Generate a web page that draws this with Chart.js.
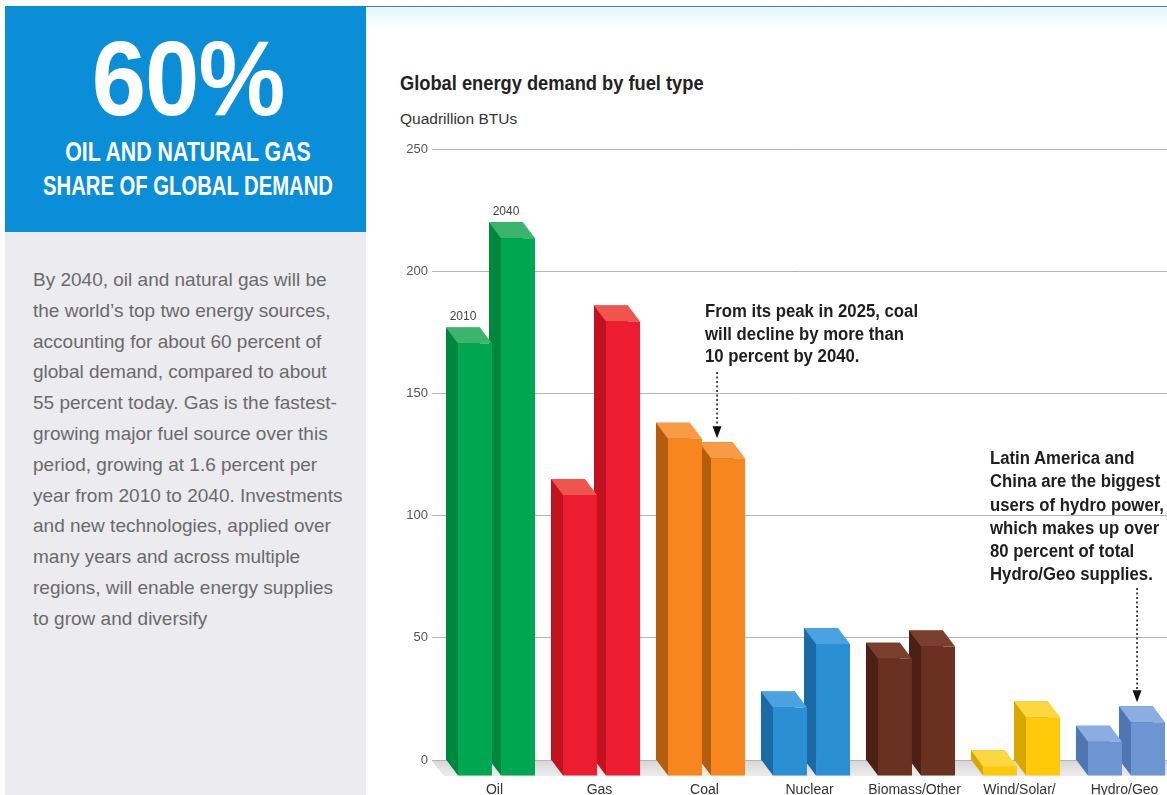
<!DOCTYPE html>
<html>
<head>
<meta charset="utf-8">
<script src="https://cdn.jsdelivr.net/npm/chart.js@4.4.1/dist/chart.umd.min.js"></script>
<style>
  body { margin:0; width:1167px; height:795px; overflow:hidden; background:#fff; position:relative; font-family:"Liberation Sans", Arial, sans-serif; }
  .abs { position:absolute; white-space:nowrap; }
  #blue { left:5px; top:6px; width:361px; height:226px; background:#0b8ed8; }
  #grey { left:5px; top:232px; width:361px; height:563px; background:#ecebef; }
  .head { left:-55px; width:486px; text-align:center; color:#fff; font-weight:bold; }
  #big { top:26px; font-size:105px; line-height:105px; transform:scaleX(0.93); letter-spacing:-1px; }
  #h1 { top:139px; font-size:27px; line-height:27px; transform:scaleX(0.79); }
  #h2 { top:173px; font-size:27px; line-height:27px; transform:scaleX(0.75); }
  #para { left:33px; top:265px; font-size:19px; line-height:30.8px; color:#6a6a6a; }
  #topline { left:366px; top:6px; width:801px; height:1px; background:#4d7ea8; }
  #topglow { left:366px; top:7px; width:801px; height:22px; background:linear-gradient(#e4f6fb, #fff); }
  #title { left:400px; top:72px; font-size:21px; line-height:21px; font-weight:bold; color:#222; transform:scaleX(0.87); transform-origin:left; }
  #unit { left:400px; top:111px; font-size:15.5px; line-height:15.5px; color:#333; }
  .note { font-size:18px; font-weight:bold; color:#1e1e1e; transform:scaleX(0.93); transform-origin:left; }
  #note1 { left:705px; top:300px; line-height:22.5px; }
  #note2 { left:990px; top:447px; line-height:23.3px; }
  #chart { position:absolute; left:370px; top:0; }
</style>
</head>
<body>
<div id="topglow" class="abs"></div>
<div id="topline" class="abs"></div>
<div id="blue" class="abs"></div>
<div id="grey" class="abs"></div>
<div id="big" class="abs head">60%</div>
<div id="h1" class="abs head">OIL AND NATURAL GAS</div>
<div id="h2" class="abs head">SHARE OF GLOBAL DEMAND</div>
<div id="para" class="abs">By 2040, oil and natural gas will be<br>the world’s top two energy sources,<br>accounting for about 60 percent of<br>global demand, compared to about<br>55 percent today. Gas is the fastest-<br>growing major fuel source over this<br>period, growing at 1.6 percent per<br>year from 2010 to 2040. Investments<br>and new technologies, applied over<br>many years and across multiple<br>regions, will enable energy supplies<br>to grow and diversify</div>

<div id="title" class="abs">Global energy demand by fuel type</div>
<div id="unit" class="abs">Quadrillion BTUs</div>

<canvas id="chart" width="840" height="830"></canvas>

<div id="note1" class="abs note">From its peak in 2025, coal<br>will decline by more than<br>10 percent by 2040.</div>
<div id="note2" class="abs note">Latin America and<br>China are the biggest<br>users of hydro power,<br>which makes up over<br>80 percent of total<br>Hydro/Geo supplies.</div>

<script>
// data
var fuels = ["Oil", "Gas", "Coal", "Nuclear", "Biomass/Other", ["Wind/Solar/", "Biofuels"], "Hydro/Geo"];
var years = ["2010", "2040"];
var demand2010 = [177, 115, 138, 28, 48, 4, 14];
var demand2040 = [220, 186, 130, 54, 53, 24, 22];
var yTicks = [0, 50, 100, 150, 200, 250];

// colours per fuel: front, side, top
var frontColors = ["#00a651", "#ee1c30", "#f7861f", "#2a8fd3", "#6a3020", "#fdc908", "#6d95d2"];
var sideColors  = ["#00873f", "#c1121f", "#b35d0e", "#1b6aa5", "#4c2015", "#d9a602", "#5076b2"];
var topColors   = ["#3db46d", "#f0554d", "#f99b46", "#4aa3e0", "#7a3e2c", "#fdd740", "#8aaee2"];

var DX = 12, DY = 16;

function poly(ctx, pts, color) {
  ctx.beginPath();
  ctx.moveTo(pts[0][0], pts[0][1]);
  for (var k = 1; k < pts.length; k++) ctx.lineTo(pts[k][0], pts[k][1]);
  ctx.closePath();
  ctx.fillStyle = color;
  ctx.fill();
}

var bar3d = {
  id: 'bar3d',
  beforeDatasetsDraw: function(chart) {
    var ctx = chart.ctx, area = chart.chartArea;
    var y0 = chart.scales.y.getPixelForValue(0);
    ctx.save();
    var g = ctx.createLinearGradient(0, y0, 0, y0 + DY);
    g.addColorStop(0, "#d6d6d6");
    g.addColorStop(1, "#ececec");
    poly(ctx, [[area.left, y0 + 1], [area.right, y0 + 1], [area.right + DX, y0 + DY], [area.left + DX, y0 + DY]], g);
    ctx.restore();
  },
  afterDatasetsDraw: function(chart) {
    var ctx = chart.ctx;
    ctx.save();
    for (var i = 0; i < chart.data.labels.length; i++) {
      for (var d = chart.data.datasets.length - 1; d >= 0; d--) {
        var el = chart.getDatasetMeta(d).data[i];
        var l = el.x - el.width / 2, r = el.x + el.width / 2, t = el.y, b = el.base;
        poly(ctx, [[l, t], [l + DX, t + DY], [l + DX, b + DY], [l, b]], sideColors[i]);
        poly(ctx, [[l, t], [r, t], [r + DX, t + DY], [l + DX, t + DY]], topColors[i]);
        poly(ctx, [[l + DX, t + DY], [r + DX, t + DY], [r + DX, b + DY], [l + DX, b + DY]], frontColors[i]);
      }
    }
    // year labels over the first group
    ctx.fillStyle = "#444";
    ctx.font = "12px 'Liberation Sans', Arial, sans-serif";
    ctx.textAlign = "center";
    ctx.textBaseline = "alphabetic";
    for (var d2 = 0; d2 < chart.data.datasets.length; d2++) {
      var e0 = chart.getDatasetMeta(d2).data[0];
      ctx.fillText(years[d2], e0.x, e0.y - 7);
    }
    ctx.restore();
  },
  afterDraw: function(chart, args, opts) {
    var ctx = chart.ctx;
    ctx.save();
    (opts.arrows || []).forEach(function(a) {
      var el = chart.getDatasetMeta(a.dataset).data[a.index];
      var x = el.x + 1, tip = el.y - 4;
      ctx.strokeStyle = "#111";
      ctx.lineWidth = 1.5;
      ctx.setLineDash([2, 2.5]);
      ctx.beginPath();
      ctx.moveTo(x, a.fromY);
      ctx.lineTo(x, tip - 11);
      ctx.stroke();
      ctx.setLineDash([]);
      poly(ctx, [[x - 4.5, tip - 12], [x + 4.5, tip - 12], [x, tip]], "#111");
    });
    ctx.restore();
  }
};

new Chart(document.getElementById("chart").getContext("2d"), {
  type: 'bar',
  data: {
    labels: fuels,
    datasets: [
      { label: years[0], data: demand2010, backgroundColor: sideColors, categoryPercentage: 0.82, barPercentage: 0.79 },
      { label: years[1], data: demand2040, backgroundColor: sideColors, categoryPercentage: 0.82, barPercentage: 0.79 }
    ]
  },
  plugins: [bar3d],
  options: {
    responsive: false,
    animation: false,
    layout: { padding: { top: 149, right: 43, bottom: 0, left: 0 } },
    plugins: {
      legend: { display: false },
      tooltip: { enabled: false },
      bar3d: { arrows: [{ dataset: 1, index: 2, fromY: 372 }, { dataset: 1, index: 6, fromY: 588 }] }
    },
    scales: {
      x: {
        grid: { display: false, drawTicks: false },
        border: { display: false },
        ticks: { color: "#333", padding: 22, labelOffset: 10, maxRotation: 0, autoSkip: false,
                 font: { family: "'Liberation Sans', Arial, sans-serif", size: 14 } },
        afterFit: function(s) { s.height = 70; }
      },
      y: {
        min: 0, max: 250,
        afterBuildTicks: function(s) { s.ticks = yTicks.map(function(v) { return { value: v }; }); },
        grid: { color: "#b4b4b4", lineWidth: 1, drawTicks: false },
        border: { display: false },
        ticks: { color: "#555", padding: 4, font: { family: "'Liberation Sans', Arial, sans-serif", size: 13 } },
        afterFit: function(s) { s.width = 62; }
      }
    }
  }
});
</script>
</body>
</html>
